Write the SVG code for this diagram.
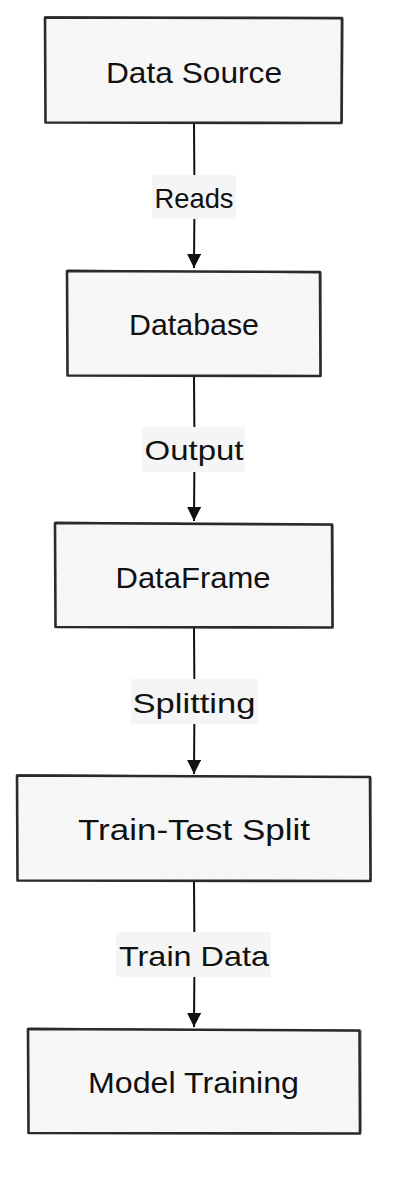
<svg xmlns="http://www.w3.org/2000/svg" width="404" height="1194" viewBox="0 0 404 1194">
<defs>
<pattern id="hatch" patternUnits="userSpaceOnUse" width="10" height="10" patternTransform="rotate(-50)">
<rect width="10" height="10" fill="#f6f6f6"/>
<line x1="0" y1="0" x2="0" y2="10" stroke="#ffffff" stroke-width="1.2"/>
</pattern>
<marker id="arr" viewBox="0 0 14 14" refX="14" refY="7" markerWidth="14" markerHeight="14" markerUnits="userSpaceOnUse" orient="auto">
<path d="M0,0 L14,7 L0,14 Z" fill="#111"/>
</marker>
</defs>
<style>
.box{fill:url(#hatch);stroke:none}
.edge{fill:none;stroke:#2b2b2b;stroke-width:2.6;stroke-linecap:round;stroke-linejoin:round}
.edge2{fill:none;stroke:#2b2b2b;stroke-width:1;stroke-linecap:round;opacity:0.7}
.lbl{font-family:"Liberation Sans",Arial,sans-serif;font-size:30px;fill:#111;text-anchor:middle}
.elbl{font-family:"Liberation Sans",Arial,sans-serif;font-size:28px;fill:#111;text-anchor:middle}
.lbg{fill:#f5f5f5}
.conn{fill:none;stroke:#111;stroke-width:2}
</style>
<rect width="404" height="1194" fill="#ffffff"/>
<g id="connectors">
<path class="conn" d="M194,123 L194.5,198 L194,268" marker-end="url(#arr)"/>
<path class="conn" d="M194,376 L194.5,450 L194,521" marker-end="url(#arr)"/>
<path class="conn" d="M194,628 L194.5,702 L194,774" marker-end="url(#arr)"/>
<path class="conn" d="M194,881 L194.5,955 L194,1027" marker-end="url(#arr)"/>
<g id="label-reads">
<rect class="lbg" x="152" y="175" width="84" height="44"/>
<text class="elbl" x="194" y="208" textLength="79" lengthAdjust="spacingAndGlyphs">Reads</text>
</g>
<g id="label-output">
<rect class="lbg" x="142" y="427" width="103" height="45"/>
<text class="elbl" x="194" y="460" textLength="99" lengthAdjust="spacingAndGlyphs">Output</text>
</g>
<g id="label-splitting">
<rect class="lbg" x="131" y="679" width="127" height="45"/>
<text class="elbl" x="194" y="713" textLength="123" lengthAdjust="spacingAndGlyphs">Splitting</text>
</g>
<g id="label-traindata">
<rect class="lbg" x="116" y="932" width="155" height="45"/>
<text class="elbl" x="194" y="966" textLength="150" lengthAdjust="spacingAndGlyphs">Train Data</text>
</g>
</g>
<g id="node-datasource">
<rect class="box" x="45" y="17" width="297" height="106"/>
<path class="edge" d="M45,17.5 L342,18 L341.5,123 L45.5,122.5 Z"/>
<path class="edge2" d="M46,16.5 L341,19 M343,19 L342.5,122"/>
<text class="lbl" x="194" y="83" textLength="176" lengthAdjust="spacingAndGlyphs">Data Source</text>
</g>
<g id="node-database">
<rect class="box" x="67" y="271" width="253" height="105"/>
<path class="edge" d="M67,271 L320,272 L320.5,376 L67.5,375.5 Z"/>
<path class="edge2" d="M68,270 L319,273 M321,273 L321,375"/>
<text class="lbl" x="194" y="335" textLength="130" lengthAdjust="spacingAndGlyphs">Database</text>
</g>
<g id="node-dataframe">
<rect class="box" x="55" y="523" width="277" height="104"/>
<path class="edge" d="M55,523 L332,524.5 L332.5,627.5 L55.5,627 Z"/>
<path class="edge2" d="M56,522 L331,525 M333,525 L333,626"/>
<text class="lbl" x="193" y="588" textLength="155" lengthAdjust="spacingAndGlyphs">DataFrame</text>
</g>
<g id="node-traintestsplit">
<rect class="box" x="17" y="775" width="353" height="106"/>
<path class="edge" d="M17,775.5 L370,777 L370.5,881 L17.5,880.5 Z"/>
<path class="edge2" d="M18,774.5 L369,777.5 M371,778 L371,880"/>
<text class="lbl" x="194" y="840" textLength="232" lengthAdjust="spacingAndGlyphs">Train-Test Split</text>
</g>
<g id="node-modeltraining">
<rect class="box" x="28" y="1029" width="332" height="104"/>
<path class="edge" d="M28,1029 L359.5,1030.5 L360,1133.5 L28.5,1133 Z"/>
<path class="edge2" d="M29,1028 L359,1031 M361,1031 L361,1132"/>
<text class="lbl" x="193.5" y="1093" textLength="211" lengthAdjust="spacingAndGlyphs">Model Training</text>
</g>
</svg>
